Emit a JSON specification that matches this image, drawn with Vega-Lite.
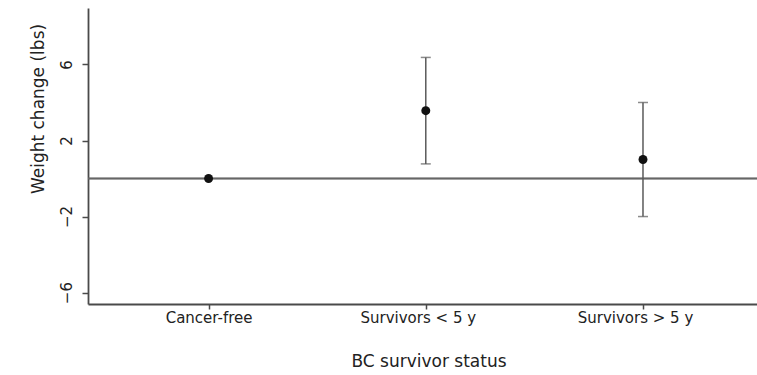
{
  "$schema": "https://vega.github.io/schema/vega-lite/v6.json",
  "width": 669,
  "height": 296,
  "autosize": {"type": "none"},
  "padding": {"left": 88, "top": 8, "right": 0, "bottom": 71},
  "background": "white",
  "config": {
    "view": {"stroke": null},
    "axis": {
      "grid": false,
      "domainColor": "#4a4a4a",
      "domainWidth": 1.8,
      "tickColor": "#4a4a4a",
      "tickWidth": 1.5,
      "labelFont": "DejaVu Sans",
      "labelFontSize": 15,
      "labelColor": "#222222",
      "titleFont": "DejaVu Sans",
      "titleFontSize": 17,
      "titleFontWeight": "normal",
      "titleColor": "#222222",
      "labelOverlap": false,
      "labelFlush": false
    }
  },
  "data": {
    "values": [
      {"status": "Cancer-free", "mean": 0},
      {"status": "Survivors < 5 y", "mean": 3.57, "lo": 0.77, "hi": 6.37},
      {"status": "Survivors > 5 y", "mean": 1.0, "lo": -2.0, "hi": 4.0}
    ]
  },
  "layer": [
    {
      "mark": {"type": "rule", "color": "#666666", "strokeWidth": 1.6},
      "encoding": {"y": {"datum": 0, "type": "quantitative"}}
    },
    {
      "mark": {"type": "rule", "color": "#5a5a5a", "strokeWidth": 1.5},
      "encoding": {
        "x": {"field": "status", "type": "nominal"},
        "y": {"field": "lo", "type": "quantitative"},
        "y2": {"field": "hi"}
      }
    },
    {
      "mark": {"type": "tick", "color": "#5a5a5a", "size": 10, "thickness": 1.5},
      "encoding": {
        "x": {"field": "status", "type": "nominal"},
        "y": {"field": "lo", "type": "quantitative"}
      }
    },
    {
      "mark": {"type": "tick", "color": "#5a5a5a", "size": 10, "thickness": 1.5},
      "encoding": {
        "x": {"field": "status", "type": "nominal"},
        "y": {"field": "hi", "type": "quantitative"}
      }
    },
    {
      "mark": {"type": "point", "filled": true, "color": "#111111", "opacity": 1, "size": 80},
      "encoding": {
        "x": {
          "field": "status",
          "type": "nominal",
          "sort": null,
          "scale": {
            "type": "point",
            "domain": ["Cancer-free", "Survivors < 5 y", "Survivors > 5 y"],
            "padding": 0.54,
            "align": 0.514
          },
          "axis": {
            "title": "BC survivor status",
            "labelAngle": 0,
            "labelAlign": "center",
            "tickSize": 5,
            "labelPadding": 8,
            "labelOffset": {"condition": {"test": "datum.value == 'Cancer-free'", "value": 0}, "value": -8},
            "titleX": 340.5,
            "titleY": 62.5,
            "titleAlign": "center",
            "titleBaseline": "alphabetic"
          }
        },
        "y": {
          "field": "mean",
          "type": "quantitative",
          "scale": {"domain": [-6.6, 8.97], "nice": false, "zero": false},
          "axis": {
            "title": "Weight change (lbs)",
            "values": [-6, -2, 2, 6],
            "labelAngle": -90,
            "labelAlign": "center",
            "labelBaseline": "bottom",
            "labelPadding": 8,
            "tickSize": 6,
            "titleAngle": -90,
            "titleX": -44.5,
            "titleY": 100.5,
            "titleAlign": "center",
            "titleBaseline": "alphabetic"
          }
        }
      }
    }
  ]
}
